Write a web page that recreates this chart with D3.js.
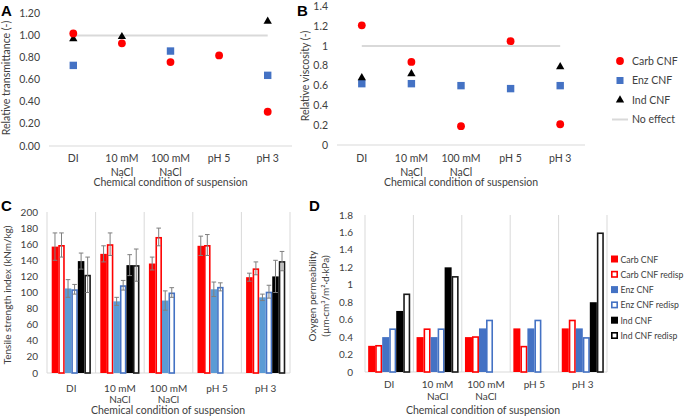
<!DOCTYPE html>
<html>
<head>
<meta charset="utf-8">
<script src="https://cdn.jsdelivr.net/npm/d3@7"></script>
<style>
  body { margin: 0; background: #fff; }
  svg text { font-family: Lato, "Liberation Sans", sans-serif; fill: #404040; }
</style>
</head>
<body>
<div id="chart"></div>
<script>
// categories shared by all four panels
var categories = ["DI", "10 mM\nNaCl", "100 mM\nNaCl", "pH 5", "pH 3"];

// A: relative transmittance
var transCarb = [1.02, 0.93, 0.76, 0.82, 0.31];
var transEnz = [0.73, null, 0.86, null, 0.64];
var transInd = [0.97, 0.99, null, null, 1.13];
var transTicks = [0, 0.2, 0.4, 0.6, 0.8, 1.0, 1.2];

// B: relative viscosity
var viscCarb = [1.21, 0.84, 0.19, 1.05, 0.21];
var viscEnz = [0.62, 0.62, 0.60, 0.57, 0.60];
var viscInd = [0.68, 0.72, null, null, 0.79];
var viscTicks = [0, 0.2, 0.4, 0.6, 0.8, 1, 1.2, 1.4];

// C: tensile strength index, value and error
var seriesNames = ["Carb CNF", "Carb CNF redisp", "Enz CNF", "Enz CNF redisp", "Ind CNF", "Ind CNF redisp"];
var tensile = [
  [157, 148, 136, 158, 119],
  [159, 160, 169, 159, 130],
  [105, 89, 90, 104, 94],
  [104, 109, 100, 107, 101],
  [139, 134, null, null, 120],
  [122, 134, null, null, 139]
];
var tensileErr = [
  [17, 10, 8, 12, 5],
  [15, 14, 11, 13, 8],
  [11, 5, 12, 9, 4],
  [6, 6, 6, 5, 8],
  [10, 13, null, null, 20],
  [22, 20, null, null, 12]
];
var tensileTicks = [0, 20, 40, 60, 80, 100, 120, 140, 160, 180, 200];

// D: oxygen permeability
var oxygen = [
  [0.3, 0.4, 0.4, 0.5, 0.5],
  [0.31, 0.5, 0.41, 0.3, 0.6],
  [0.4, 0.4, 0.5, 0.5, 0.5],
  [0.5, 0.5, 0.6, 0.6, 0.4],
  [0.7, 1.2, null, null, 0.8],
  [0.9, 1.1, null, null, 1.6]
];
var oxygenTicks = [0, 0.2, 0.4, 0.6, 0.8, 1, 1.2, 1.4, 1.6, 1.8];

var RED = "#ff0000", BLUE_C = "#5b9bd5", BLUE_D = "#4472c4", BLACK = "#000000";

var svg = d3.select("#chart").append("svg")
  .attr("width", 685).attr("height", 416);

function catLabels(g, x, y0, gap, fs) {
  categories.forEach(function(c, i) {
    var lines = c.split("\n");
    var t = g.append("text")
      .attr("text-anchor", "middle")
      .attr("font-size", fs);
    lines.forEach(function(l, k) {
      t.append("tspan")
        .attr("x", x(c) + x.bandwidth() / 2)
        .attr("y", y0 + k * gap)
        .text(l);
    });
  });
}

function yTicks(g, y, ticks, fmt, xr, fs) {
  g.selectAll(null).data(ticks).enter().append("text")
    .attr("x", xr).attr("y", function(d) { return y(d) + 3.5; })
    .attr("text-anchor", "end")
    .attr("font-size", fs)
    .text(fmt);
}

function yTitle(g, lines, cx, cy, fs) {
  lines.forEach(function(l, k) {
    g.append("text")
      .attr("transform", "translate(" + (cx + k * 13) + "," + cy + ") rotate(-90)")
      .attr("text-anchor", "middle")
      .attr("font-size", fs)
      .text(l);
  });
}

function xTitle(g, cx, y, fs) {
  g.append("text").attr("x", cx).attr("y", y)
    .attr("text-anchor", "middle").attr("font-size", fs)
    .text("Chemical condition of suspension");
}

function panelLetter(t, x, y) {
  svg.append("text").attr("x", x).attr("y", y)
    .attr("font-size", "15px").attr("font-weight", "bold")
    .style("fill", "#000")
    .style("font-family", "'Liberation Sans', Arial, sans-serif")
    .text(t);
}

var tri = d3.symbol().type(d3.symbolTriangle).size(30);

function scatterPanel(opt) {
  var g = svg.append("g");
  var x = d3.scaleBand().domain(categories).range(opt.xr);
  var y = d3.scaleLinear().domain(opt.yd).range(opt.yr);
  var cx = function(i) { return x(categories[i]) + x.bandwidth() / 2; };

  // no effect line
  g.append("line")
    .attr("x1", cx(0)).attr("x2", cx(4))
    .attr("y1", y(1)).attr("y2", y(1))
    .attr("stroke", "#d9d9d9").attr("stroke-width", 2);
  // baseline
  g.append("line")
    .attr("x1", opt.xr[0]).attr("x2", opt.xr[1])
    .attr("y1", y(0)).attr("y2", y(0))
    .attr("stroke", "#d9d9d9").attr("stroke-width", 1);

  yTicks(g, y, opt.ticks, opt.fmt, opt.tickX, "10.5px");
  catLabels(g, x, opt.labelY, 13.5, "10.5px");
  xTitle(g, (opt.xr[0] + opt.xr[1]) / 2, opt.titleY, "10.5px");
  yTitle(g, [opt.ytitle], opt.ytitleX, opt.ytitleY, "10.5px");

  var idx = d3.range(categories.length);
  g.selectAll(null).data(idx.filter(function(i) { return opt.enz[i] != null; }))
    .enter().append("rect")
    .attr("x", function(i) { return cx(i) - 3.7; })
    .attr("y", function(i) { return y(opt.enz[i]) - 3.7; })
    .attr("width", 7.4).attr("height", 7.4)
    .attr("fill", BLUE_D);
  g.selectAll(null).data(idx.filter(function(i) { return opt.ind[i] != null; }))
    .enter().append("path")
    .attr("d", tri)
    .attr("transform", function(i) { return "translate(" + cx(i) + "," + y(opt.ind[i]) + ")"; })
    .attr("fill", BLACK);
  g.selectAll(null).data(idx.filter(function(i) { return opt.carb[i] != null; }))
    .enter().append("circle")
    .attr("cx", cx).attr("cy", function(i) { return y(opt.carb[i]); })
    .attr("r", 3.9).attr("fill", RED);
  return g;
}

// ---- Panel A
scatterPanel({
  xr: [49, 292], yd: [0, 1.2], yr: [146, 13.5],
  ticks: transTicks, fmt: d3.format(".2f"), tickX: 40,
  labelY: 162, titleY: 186, ytitle: "Relative transmittance (-)", ytitleX: 10, ytitleY: 78,
  carb: transCarb, enz: transEnz, ind: transInd
});
panelLetter("A", 1, 16);

// ---- Panel B
scatterPanel({
  xr: [337, 585], yd: [0, 1.4], yr: [145, 6.5],
  ticks: viscTicks, fmt: d3.format("~g"), tickX: 328,
  labelY: 162, titleY: 186, ytitle: "Relative viscosity (-)", ytitleX: 309, ytitleY: 76,
  carb: viscCarb, enz: viscEnz, ind: viscInd
});
panelLetter("B", 297, 16);

// legend B
var legB = svg.append("g").attr("transform", "translate(620,61)");
legB.append("circle").attr("cx", 0).attr("cy", 0).attr("r", 3.9).attr("fill", RED);
legB.append("rect").attr("x", -3.5).attr("y", 19.5 - 3.5).attr("width", 7).attr("height", 7).attr("fill", BLUE_D);
legB.append("path").attr("d", tri).attr("transform", "translate(0,39)").attr("fill", BLACK);
legB.append("line").attr("x1", -8).attr("x2", 8).attr("y1", 58.5).attr("y2", 58.5)
  .attr("stroke", "#d9d9d9").attr("stroke-width", 2);
["Carb CNF", "Enz CNF", "Ind CNF", "No effect"].forEach(function(t, k) {
  legB.append("text").attr("x", 12).attr("y", k * 19.5 + 3.8)
    .attr("font-size", "10.5px").text(t);
});

// ---- bar panels
function barPanel(opt) {
  var g = svg.append("g");
  var x = d3.scaleBand().domain(categories).range(opt.xr);
  var xs = d3.scaleBand().domain(d3.range(6)).range([0, x.bandwidth()]).paddingOuter(opt.pad);
  var y = d3.scaleLinear().domain(opt.yd).range(opt.yr);

  // category separators
  g.selectAll(null).data(d3.range(categories.length + 1)).enter().append("line")
    .attr("x1", function(i) { return opt.xr[0] + i * x.bandwidth(); })
    .attr("x2", function(i) { return opt.xr[0] + i * x.bandwidth(); })
    .attr("y1", opt.yr[1]).attr("y2", y(0))
    .attr("stroke", "#d9d9d9").attr("stroke-width", 1);
  g.append("line").attr("x1", opt.xr[0]).attr("x2", opt.xr[1])
    .attr("y1", y(0)).attr("y2", y(0)).attr("stroke", "#d9d9d9");

  var cols = [RED, "#fff", opt.blue, "#fff", BLACK, "#fff"];
  var lines = [RED, RED, opt.blue, opt.blueLine, BLACK, "#1a1a1a"];
  opt.values.forEach(function(vals, s) {
    vals.forEach(function(v, i) {
      if (v == null) return;
      var bx = x(categories[i]) + xs(s), bw = xs.bandwidth();
      if (s % 2 === 0) {
        g.append("rect").attr("x", bx).attr("y", y(v))
          .attr("width", bw).attr("height", y(0) - y(v)).attr("fill", cols[s]);
      } else {
        g.append("rect").attr("x", bx + 0.8).attr("y", y(v) + 0.8)
          .attr("width", bw - 1.6).attr("height", y(0) - y(v) - 0.8)
          .attr("fill", "#fff").attr("stroke", lines[s]).attr("stroke-width", 1.6);
      }
      if (opt.errs && opt.errs[s][i] != null) {
        var e = opt.errs[s][i], mx = bx + bw / 2;
        g.append("line").attr("x1", mx).attr("x2", mx)
          .attr("y1", y(v + e)).attr("y2", y(v - e))
          .attr("stroke", "#7f7f7f").attr("stroke-width", 1);
        [v + e, v - e].forEach(function(w) {
          g.append("line").attr("x1", mx - 2.3).attr("x2", mx + 2.3)
            .attr("y1", y(w)).attr("y2", y(w))
            .attr("stroke", "#7f7f7f").attr("stroke-width", 1);
        });
      }
    });
  });

  yTicks(g, y, opt.ticks, opt.fmt, opt.tickX, "10px");
  catLabels(g, x, opt.labelY, opt.labelGap, "10px");
  xTitle(g, opt.titleX, opt.titleY, "10.5px");
  yTitle(g, opt.ytitle, opt.ytitleX, opt.ytitleY, "10px");
  return g;
}

// ---- Panel C
barPanel({
  xr: [47, 290], yd: [0, 200], yr: [373, 212], pad: 0.72,
  values: tensile, errs: tensileErr, blue: BLUE_C, blueLine: BLUE_D,
  ticks: tensileTicks, fmt: d3.format("d"), tickX: 38,
  labelY: 391.5, labelGap: 11.3, titleX: 168, titleY: 414,
  ytitle: ["Tensile strength index (kNm/kg)"], ytitleX: 11, ytitleY: 295
});
panelLetter("C", 1, 211);

// ---- Panel D
barPanel({
  xr: [365, 607], yd: [0, 1.8], yr: [372, 215], pad: 0.45,
  values: oxygen, errs: null, blue: BLUE_D, blueLine: BLUE_D,
  ticks: oxygenTicks, fmt: d3.format("~g"), tickX: 353,
  labelY: 388, labelGap: 11.8, titleX: 483, titleY: 414,
  ytitle: ["Oxygen permeability", "(\u00b5m\u00b7cm\u00b3/m\u00b2\u00b7d\u00b7kPa)"], ytitleX: 316, ytitleY: 296
});
panelLetter("D", 309, 211);

// legend D
var legD = svg.append("g").attr("transform", "translate(611,259)");
seriesNames.forEach(function(t, k) {
  var yy = k * 15.3;
  if (k % 2 === 0) {
    legD.append("rect").attr("x", 0).attr("y", yy - 3.5).attr("width", 7).attr("height", 7)
      .attr("fill", [RED, BLUE_D, BLACK][k / 2]);
  } else {
    legD.append("rect").attr("x", 0.8).attr("y", yy - 2.7).attr("width", 5.4).attr("height", 5.4)
      .attr("fill", "#fff").attr("stroke", [RED, BLUE_D, "#000"][(k - 1) / 2]).attr("stroke-width", 1.6);
  }
  legD.append("text").attr("x", 9.5).attr("y", yy + 3.5).attr("font-size", "8.7px").text(t);
});
</script>
</body>
</html>
